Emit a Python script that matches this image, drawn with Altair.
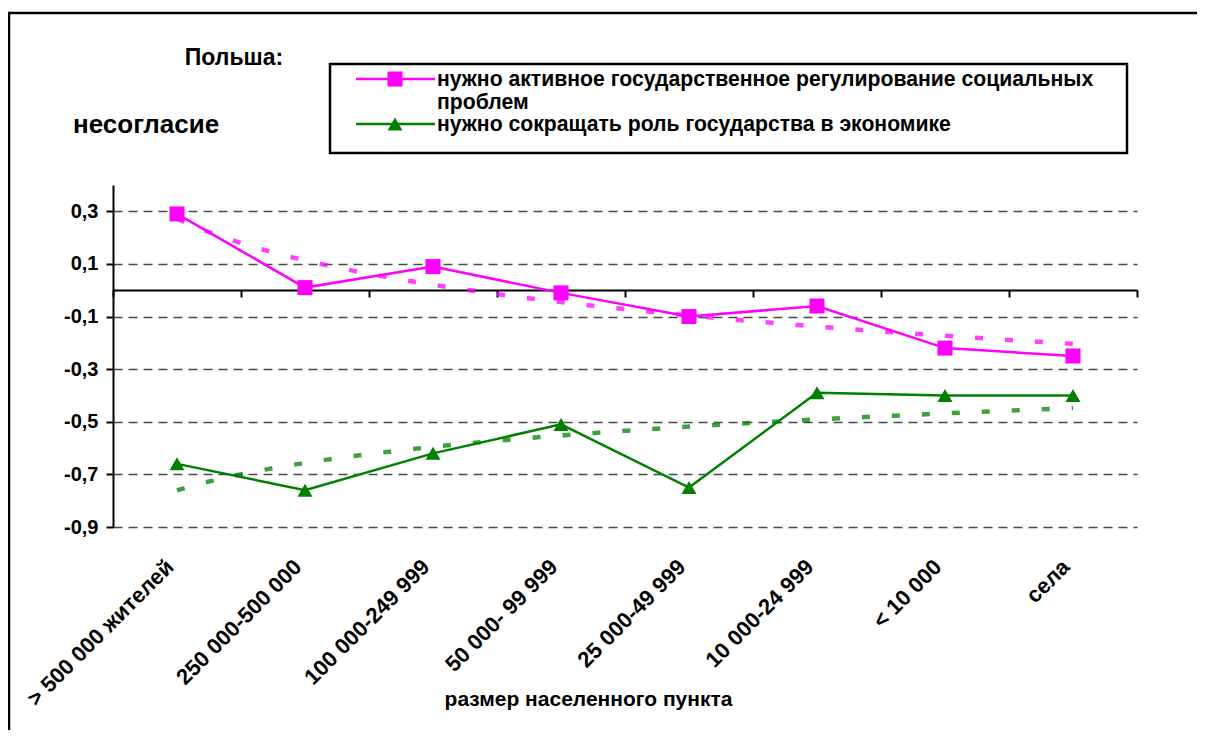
import altair as alt
import pandas as pd

# ---- data ----
categories = ["> 500 000 жителей", "250 000-500 000", "100 000-249 999", "50 000- 99 999",
              "25 000-49 999", "10 000-24 999", "< 10 000", "села"]
series_names = ["нужно активное государственное регулирование социальных проблем",
                "нужно сокращать роль государства в экономике"]
values_regulation = [0.29, 0.01, 0.09, -0.01, -0.10, -0.06, -0.22, -0.25]
values_reduce = [-0.66, -0.76, -0.62, -0.51, -0.75, -0.39, -0.40, -0.40]
y_ticks = [0.3, 0.1, -0.1, -0.3, -0.5, -0.7, -0.9]
series_colors = ["#FF00FF", "#008000"]
series_shapes = ["square", "triangle-up"]
title_country = "Польша:"
title_measure = "несогласие"
x_title = "размер населенного пункта"
legend_labels = ["нужно активное государственное регулирование социальных\nпроблем",
                 "нужно сокращать роль государства в экономике"]

rows = []
for name, vals in zip(series_names, [values_regulation, values_reduce]):
    for i, (c, v) in enumerate(zip(categories, vals)):
        rows.append({"series": name, "category": c, "idx": i + 1, "value": v})
df = pd.DataFrame(rows)

FONT = "Liberation Sans"
W, H = 1024, 342

color_scale = alt.Scale(domain=series_names, range=series_colors)
shape_scale = alt.Scale(domain=series_names, range=series_shapes)

y_enc = alt.Y("value:Q",
              scale=alt.Scale(domain=[-0.9, 0.4], nice=False, zero=False),
              axis=alt.Axis(values=y_ticks, title=None,
                            labelExpr="replace(replace(format(datum.value, '.1f'), '.', ','), '\u2212', '-')",
                            domainColor="black", domainWidth=2,
                            tickColor="black", tickWidth=2, tickSize=7,
                            labelFont=FONT, labelFontWeight="bold", labelFontSize=20,
                            labelColor="black", labelPadding=8,
                            grid=True, gridColor="#4a4a4a", gridDash=[9, 6], gridWidth=1.3))

band = alt.Scale(type="band", paddingInner=0, paddingOuter=0)

base = alt.Chart(df)

lines = base.mark_line(strokeWidth=2.5).encode(
    x=alt.X("category:N", sort=categories, scale=band,
            axis=alt.Axis(orient="bottom", offset=-237, labels=False, title=None,
                          domainColor="black", domainWidth=2, tickColor="black",
                          tickWidth=2, tickSize=7, tickBand="extent", grid=False)),
    y=y_enc,
    color=alt.Color("series:N", scale=color_scale, legend=None),
    detail="series:N",
)

points = base.mark_point(filled=True, opacity=1, size=225).encode(
    x=alt.X("category:N", sort=categories, scale=band,
            axis=alt.Axis(orient="bottom", domain=False, ticks=False, grid=False,
                          labelAngle=315, labelAlign="right", labelBaseline="middle",
                          labelPadding=36, labelOffset=-7, labelFont=FONT, labelFontWeight="bold",
                          labelFontSize=22, labelColor="black", labelLimit=400,
                          title=x_title, titleFont=FONT, titleFontWeight="bold",
                          titleFontSize=21, titleColor="black", titleX=475, titleY=172,
                          titleAlign="center", titleBaseline="middle")),
    y=y_enc,
    color=alt.Color("series:N", scale=color_scale, legend=None),
    shape=alt.Shape("series:N", scale=shape_scale, legend=None),
)

trend = base.transform_regression("idx", "value", groupby=["series"], method="log").mark_line(
    strokeWidth=4.5, strokeDash=[8, 22], opacity=0.75
).encode(
    x=alt.X("idx:Q", scale=alt.Scale(domain=[0.5, 8.5], nice=False, zero=False), axis=None),
    y=y_enc,
    color=alt.Color("series:N", scale=color_scale, legend=None),
)

dummy = pd.DataFrame({"k": [0]})
one = alt.Chart(dummy)

frame = one.mark_rect(fillOpacity=0, stroke="black", strokeWidth=2.5).encode(
    x=alt.value(-104), x2=alt.value(1300), y=alt.value(-172), y2=alt.value(600))

legend_box = one.mark_rect(fill="white", stroke="black", strokeWidth=2.5).encode(
    x=alt.value(217), x2=alt.value(1014), y=alt.value(-121), y2=alt.value(-32))

legend_layers = []
for i, (lab, col, shp) in enumerate(zip(legend_labels, series_colors, series_shapes)):
    yy = -106 if i == 0 else -61
    legend_layers.append(one.mark_rule(color=col, strokeWidth=2.5).encode(
        x=alt.value(243), x2=alt.value(322), y=alt.value(yy)))
    legend_layers.append(one.mark_point(shape=shp, filled=True, opacity=1, size=225, color=col).encode(
        x=alt.value(282), y=alt.value(yy)))
    legend_layers.append(one.mark_text(align="left", baseline="alphabetic", font=FONT,
                                       fontWeight="bold", fontSize=21.2, lineBreak="\n",
                                       lineHeight=23, color="black").encode(
        x=alt.value(324), y=alt.value(yy + 7), text=alt.value(lab)))

txt_country = one.mark_text(align="center", baseline="middle", font=FONT, fontWeight="bold",
                            fontSize=23, color="black").encode(
    x=alt.value(121), y=alt.value(-127), text=alt.value(title_country))
txt_measure = one.mark_text(align="left", baseline="middle", font=FONT, fontWeight="bold",
                            fontSize=26, color="black").encode(
    x=alt.value(-40), y=alt.value(-60), text=alt.value(title_measure))

chart = alt.layer(frame, legend_box, *legend_layers, txt_country, txt_measure,
                  trend, lines, points).resolve_scale(x="independent").properties(
    width=W, height=H,
    autosize=alt.AutoSizeParams(type="none"),
    padding={"left": 105, "top": 177, "right": 60, "bottom": 203},
    background="white",
).configure_view(strokeWidth=0)

chart.save("out.html", embed_options={"renderer": "svg", "actions": False})
